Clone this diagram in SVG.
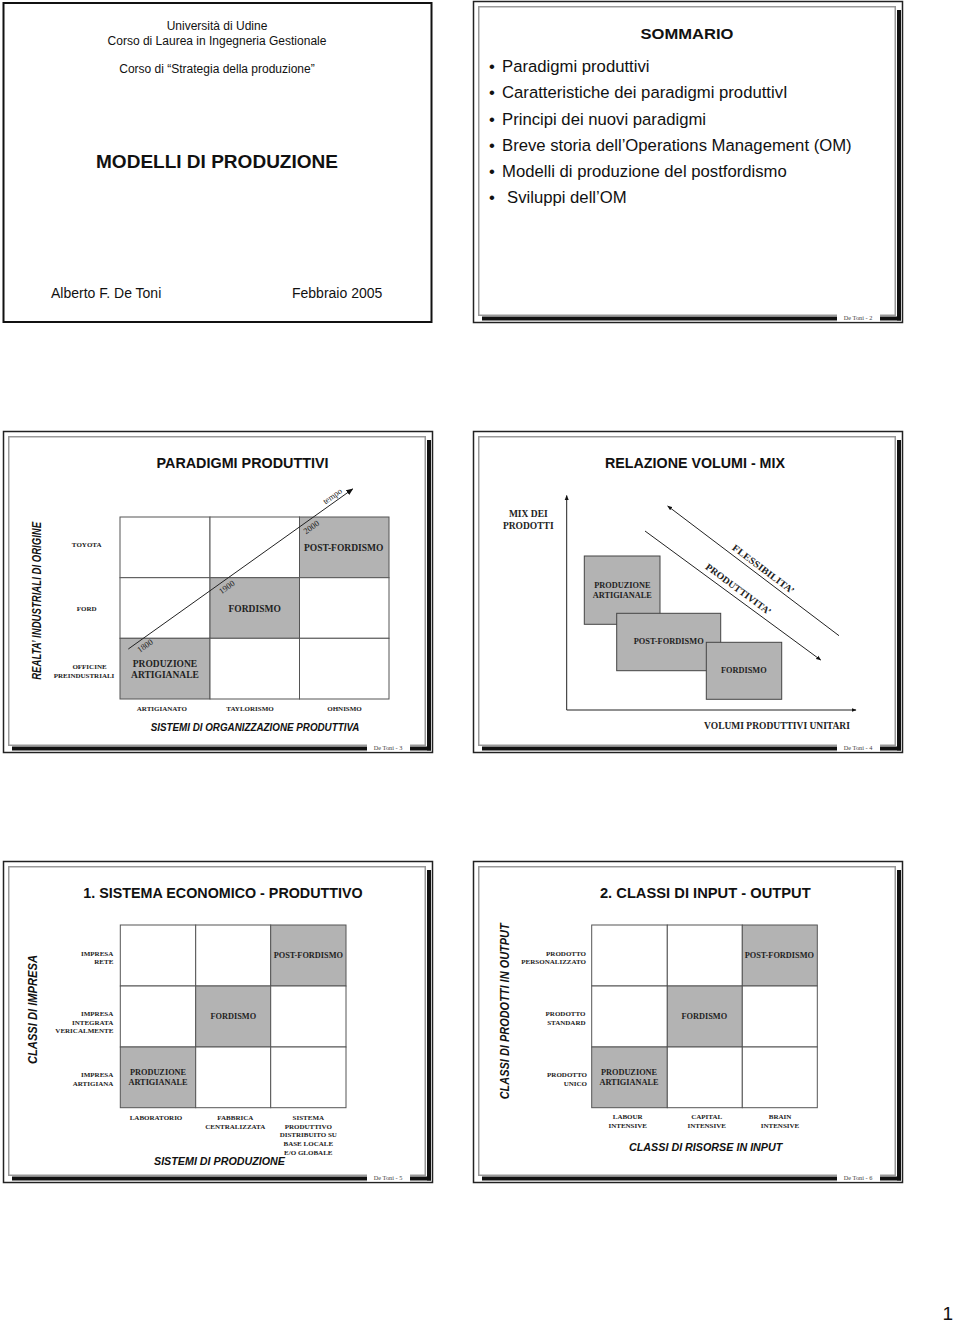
<svg xmlns="http://www.w3.org/2000/svg" width="960" height="1325" viewBox="0 0 960 1325">
<defs>
<style>
.sans{font-family:"Liberation Sans",Arial,sans-serif;fill:#111}
.ser{font-family:"Liberation Serif","Times New Roman",serif;fill:#222;font-weight:bold;text-anchor:middle}
.title{font-family:"Liberation Sans",Arial,sans-serif;font-weight:bold;font-size:15px;fill:#111;text-anchor:middle}
.ax{font-family:"Liberation Sans",Arial,sans-serif;font-weight:bold;font-style:italic;fill:#111;text-anchor:middle}
.c{text-anchor:middle}
.e{text-anchor:end}
.cell{fill:#fff;stroke:#555;stroke-width:1}
.g{fill:#b3b3b3}
.box{fill:#b3b3b3;stroke:#444;stroke-width:1}
.foot{font-family:"Liberation Serif","Times New Roman",serif;font-size:6.3px;fill:#444;text-anchor:middle}
.ln{stroke:#222;stroke-width:1;fill:none}
.s7{font-size:7px}
.s8{font-size:8.3px}
.s95{font-size:9.5px}
</style>
<marker id="ah" viewBox="0 0 10 10" refX="9" refY="5" markerWidth="7" markerHeight="7" orient="auto-start-reverse" markerUnits="userSpaceOnUse">
<path d="M0,1 L10,5 L0,9 z" fill="#111"/>
</marker>
<marker id="ah2" viewBox="0 0 10 10" refX="9" refY="5" markerWidth="5" markerHeight="5" orient="auto-start-reverse" markerUnits="userSpaceOnUse">
<path d="M0,1 L10,5 L0,9 z" fill="#111"/>
</marker>
<g id="frame">
<rect x="473.5" y="1.5" width="429" height="321" fill="#fff" stroke="#222" stroke-width="1.5"/>
<rect x="478.75" y="6.75" width="416.5" height="308.5" fill="none" stroke="#999" stroke-width="1.5"/>
<rect x="897" y="10" width="4" height="310.5" fill="#111"/>
<rect x="482" y="316.5" width="419" height="4" fill="#111"/>
<rect x="837" y="313" width="43" height="8.5" fill="#fff"/>
</g>
</defs>
<rect x="0" y="0" width="960" height="1325" fill="#fff"/>

<!-- Slide 1 -->
<g id="slide-1">
<rect x="3.5" y="3" width="428" height="319" fill="#fff" stroke="#111" stroke-width="2"/>
<text class="sans c" x="217" y="30" font-size="12">Università di Udine</text>
<text class="sans c" x="217" y="44.5" font-size="12">Corso di Laurea in Ingegneria Gestionale</text>
<text class="sans c" x="217" y="73" font-size="12">Corso di “Strategia della produzione”</text>
<text class="sans c" x="217" y="168" font-size="19" font-weight="bold" textLength="242" lengthAdjust="spacingAndGlyphs">MODELLI DI PRODUZIONE</text>
<text class="sans" x="51" y="298" font-size="14">Alberto F. De Toni</text>
<text class="sans" x="292" y="298" font-size="14">Febbraio 2005</text>
</g>

<!-- Slide 2 -->
<g id="slide-2">
<use href="#frame"/>
<text class="foot" x="858" y="319.5">De Toni  -  2</text>
<text class="title" x="687" y="39" font-size="16.5" textLength="93" lengthAdjust="spacingAndGlyphs">SOMMARIO</text>
<g class="sans" font-size="16.7">
<text x="489" y="72">•</text><text x="502" y="72">Paradigmi produttivi</text>
<text x="489" y="98">•</text><text x="502" y="98">Caratteristiche dei paradigmi produttivI</text>
<text x="489" y="124.5">•</text><text x="502" y="124.5">Principi dei nuovi paradigmi</text>
<text x="489" y="150.5">•</text><text x="502" y="150.5">Breve storia dell’Operations Management (OM)</text>
<text x="489" y="177">•</text><text x="502" y="177">Modelli di produzione del postfordismo</text>
<text x="489" y="203">•</text><text x="507" y="203">Sviluppi dell’OM</text>
</g>
</g>

<!-- Slide 3 -->
<g id="slide-3">
<use href="#frame" transform="translate(-470,430)"/>
<text class="foot" x="388" y="749.5">De Toni  -  3</text>
<text class="title" x="242.5" y="468" textLength="172" lengthAdjust="spacingAndGlyphs">PARADIGMI PRODUTTIVI</text>
<g id="grid-3">
<rect class="cell" x="120" y="517" width="90" height="60.7"/>
<rect class="cell" x="210" y="517" width="89.5" height="60.7"/>
<rect class="cell g" x="299.5" y="517" width="89.5" height="60.7"/>
<rect class="cell" x="120" y="577.7" width="90" height="60.6"/>
<rect class="cell g" x="210" y="577.7" width="89.5" height="60.6"/>
<rect class="cell" x="299.5" y="577.7" width="89.5" height="60.6"/>
<rect class="cell g" x="120" y="638.3" width="90" height="60.7"/>
<rect class="cell" x="210" y="638.3" width="89.5" height="60.7"/>
<rect class="cell" x="299.5" y="638.3" width="89.5" height="60.7"/>
</g>
<g id="node-postfordismo-3"><text class="ser s95" x="343.7" y="550.7">POST-FORDISMO</text></g>
<g id="node-fordismo-3"><text class="ser s95" x="254.7" y="611.7">FORDISMO</text></g>
<g id="node-artigianale-3"><text class="ser s95" x="165" y="666.7">PRODUZIONE</text><text class="ser s95" x="165" y="678.3">ARTIGIANALE</text></g>
<text class="ser s7" x="86.7" y="547.3">TOYOTA</text>
<text class="ser s7" x="86.7" y="611.3">FORD</text>
<text class="ser s7" x="89.5" y="668.7">OFFICINE</text>
<text class="ser s7" x="84" y="677.7">PREINDUSTRIALI</text>
<text class="ser s7" x="161.8" y="711">ARTIGIANATO</text>
<text class="ser s7" x="250" y="711">TAYLORISMO</text>
<text class="ser s7" x="344.5" y="711">OHNISMO</text>
<text class="ax" x="255" y="731" font-size="10.5" textLength="208.7" lengthAdjust="spacingAndGlyphs">SISTEMI  DI ORGANIZZAZIONE  PRODUTTIVA</text>
<text class="ax" transform="translate(40.5,600.8) rotate(-90)" font-size="12.5" textLength="158" lengthAdjust="spacingAndGlyphs">REALTA’ INDUSTRIALI DI ORIGINE</text>
<g id="connectors-3">
<line class="ln" x1="128.3" y1="649" x2="352.7" y2="489" marker-end="url(#ah)"/>
</g>
<g font-family="Liberation Serif, Times New Roman, serif" font-size="8.5" fill="#222" text-anchor="middle">
<text transform="translate(332.3,496) rotate(-35.5)" y="3">tempo</text>
<text transform="translate(145,645.7) rotate(-35.5)" y="3">1800</text>
<text transform="translate(226.7,587) rotate(-35.5)" y="3">1900</text>
<text transform="translate(311.3,527) rotate(-35.5)" y="3">2000</text>
</g>
</g>

<!-- Slide 4 -->
<g id="slide-4">
<use href="#frame" transform="translate(0,430)"/>
<text class="foot" x="858" y="749.5">De Toni  -  4</text>
<text class="title" x="695" y="468" textLength="180" lengthAdjust="spacingAndGlyphs">RELAZIONE VOLUMI - MIX</text>
<g id="connectors-4">
<line class="ln" x1="566.7" y1="710" x2="566.7" y2="495.5" marker-end="url(#ah2)"/>
<line class="ln" x1="566.7" y1="710" x2="856" y2="710" marker-end="url(#ah2)"/>
<line class="ln" x1="667.7" y1="506" x2="839" y2="635.7" marker-start="url(#ah2)"/>
<line class="ln" x1="645" y1="531" x2="820.7" y2="660" marker-end="url(#ah2)"/>
</g>
<text class="ser s95" x="528.3" y="517.3">MIX DEI</text>
<text class="ser s95" x="528.3" y="528.7">PRODOTTI</text>
<g id="node-artigianale-4">
<rect class="box" x="584.3" y="556" width="75.7" height="68.3"/>
<text class="ser" font-size="8.3" x="622.3" y="587.7">PRODUZIONE</text>
<text class="ser" font-size="8.3" x="622.3" y="597.7">ARTIGIANALE</text>
</g>
<g id="node-postfordismo-4">
<rect class="box" x="616.7" y="613.3" width="104" height="57.4"/>
<text class="ser" font-size="8.4" x="668.7" y="644.3">POST-FORDISMO</text>
</g>
<g id="node-fordismo-4">
<rect class="box" x="706.3" y="642.3" width="75.4" height="57"/>
<text class="ser" font-size="8.3" x="743.8" y="673.3">FORDISMO</text>
</g>
<text class="ser s95" transform="translate(763.3,569.3) rotate(37.1)" y="3" textLength="75" lengthAdjust="spacingAndGlyphs">FLESSIBILITA’</text>
<text class="ser s95" transform="translate(738.3,589.3) rotate(36.5)" y="3" textLength="79" lengthAdjust="spacingAndGlyphs">PRODUTTIVITA’</text>
<text class="ser s95" x="777" y="729">VOLUMI PRODUTTIVI UNITARI</text>
</g>

<!-- Slide 5 -->
<g id="slide-5">
<use href="#frame" transform="translate(-470,860)"/>
<text class="foot" x="388" y="1179.5">De Toni  -  5</text>
<text class="title" x="223" y="897.7" textLength="279.3" lengthAdjust="spacingAndGlyphs">1. SISTEMA ECONOMICO - PRODUTTIVO</text>
<g id="grid-5">
<rect class="cell" x="120.3" y="925" width="75.4" height="61"/>
<rect class="cell" x="195.7" y="925" width="75" height="61"/>
<rect class="cell g" x="270.7" y="925" width="75.3" height="61"/>
<rect class="cell" x="120.3" y="986" width="75.4" height="61"/>
<rect class="cell g" x="195.7" y="986" width="75" height="61"/>
<rect class="cell" x="270.7" y="986" width="75.3" height="61"/>
<rect class="cell g" x="120.3" y="1047" width="75.4" height="60.7"/>
<rect class="cell" x="195.7" y="1047" width="75" height="60.7"/>
<rect class="cell" x="270.7" y="1047" width="75.3" height="60.7"/>
</g>
<g id="node-postfordismo-5"><text class="ser s8" x="308.3" y="958.3">POST-FORDISMO</text></g>
<g id="node-fordismo-5"><text class="ser s8" x="233.3" y="1019">FORDISMO</text></g>
<g id="node-artigianale-5"><text class="ser s8" x="158" y="1075">PRODUZIONE</text><text class="ser s8" x="158" y="1085">ARTIGIANALE</text></g>
<g class="s7">
<text class="ser e" x="113.3" y="955.7">IMPRESA</text>
<text class="ser e" x="113.3" y="964.3">RETE</text>
<text class="ser e" x="113.3" y="1016">IMPRESA</text>
<text class="ser e" x="113.3" y="1024.7">INTEGRATA</text>
<text class="ser e" x="113.3" y="1033.3">VERICALMENTE</text>
<text class="ser e" x="113.3" y="1077.3">IMPRESA</text>
<text class="ser e" x="113.3" y="1085.7">ARTIGIANA</text>
<text class="ser" x="156" y="1120">LABORATORIO</text>
<text class="ser" x="235.3" y="1120">FABBRICA</text>
<text class="ser" x="235.3" y="1128.7">CENTRALIZZATA</text>
<text class="ser" x="308.3" y="1120">SISTEMA</text>
<text class="ser" x="308.3" y="1128.7">PRODUTTIVO</text>
<text class="ser" x="308.3" y="1137.3">DISTRIBUITO SU</text>
<text class="ser" x="308.3" y="1146">BASE LOCALE</text>
<text class="ser" x="308.3" y="1154.7">E/O GLOBALE</text>
</g>
<text class="ax" x="219.5" y="1165" font-size="11" textLength="131" lengthAdjust="spacingAndGlyphs">SISTEMI DI PRODUZIONE</text>
<text class="ax" transform="translate(37.3,1009.5) rotate(-90)" font-size="13" textLength="109" lengthAdjust="spacingAndGlyphs">CLASSI  DI  IMPRESA</text>
</g>

<!-- Slide 6 -->
<g id="slide-6">
<use href="#frame" transform="translate(0,860)"/>
<text class="foot" x="858" y="1179.5">De Toni  -  6</text>
<text class="title" x="705.3" y="897.7" textLength="210.7" lengthAdjust="spacingAndGlyphs">2.  CLASSI DI  INPUT - OUTPUT</text>
<g id="grid-6">
<rect class="cell" x="591.7" y="925" width="75.6" height="61"/>
<rect class="cell" x="667.3" y="925" width="75" height="61"/>
<rect class="cell g" x="742.3" y="925" width="75" height="61"/>
<rect class="cell" x="591.7" y="986" width="75.6" height="61"/>
<rect class="cell g" x="667.3" y="986" width="75" height="61"/>
<rect class="cell" x="742.3" y="986" width="75" height="61"/>
<rect class="cell g" x="591.7" y="1047" width="75.6" height="60.7"/>
<rect class="cell" x="667.3" y="1047" width="75" height="60.7"/>
<rect class="cell" x="742.3" y="1047" width="75" height="60.7"/>
</g>
<g id="node-postfordismo-6"><text class="ser s8" x="779.3" y="958.3">POST-FORDISMO</text></g>
<g id="node-fordismo-6"><text class="ser s8" x="704.3" y="1019">FORDISMO</text></g>
<g id="node-artigianale-6"><text class="ser s8" x="629" y="1075">PRODUZIONE</text><text class="ser s8" x="629" y="1085">ARTIGIANALE</text></g>
<g class="s7">
<text class="ser e" x="586" y="955.7">PRODOTTO</text>
<text class="ser e" x="586" y="964.3">PERSONALIZZATO</text>
<text class="ser e" x="585.5" y="1016">PRODOTTO</text>
<text class="ser e" x="585.5" y="1024.7">STANDARD</text>
<text class="ser e" x="587" y="1077.3">PRODOTTO</text>
<text class="ser e" x="587" y="1085.7">UNICO</text>
<text class="ser" x="627.7" y="1119.3">LABOUR</text>
<text class="ser" x="627.7" y="1128">INTENSIVE</text>
<text class="ser" x="706.7" y="1119.3">CAPITAL</text>
<text class="ser" x="706.7" y="1128">INTENSIVE</text>
<text class="ser" x="780" y="1119.3">BRAIN</text>
<text class="ser" x="780" y="1128">INTENSIVE</text>
</g>
<text class="ax" x="705.7" y="1150.7" font-size="11" textLength="153.3" lengthAdjust="spacingAndGlyphs">CLASSI DI RISORSE IN INPUT</text>
<text class="ax" transform="translate(509.3,1011.3) rotate(-90)" font-size="13" textLength="176" lengthAdjust="spacingAndGlyphs">CLASSI DI PRODOTTI  IN OUTPUT</text>
</g>

<text class="sans e" x="953" y="1320" font-size="19">1</text>
</svg>
